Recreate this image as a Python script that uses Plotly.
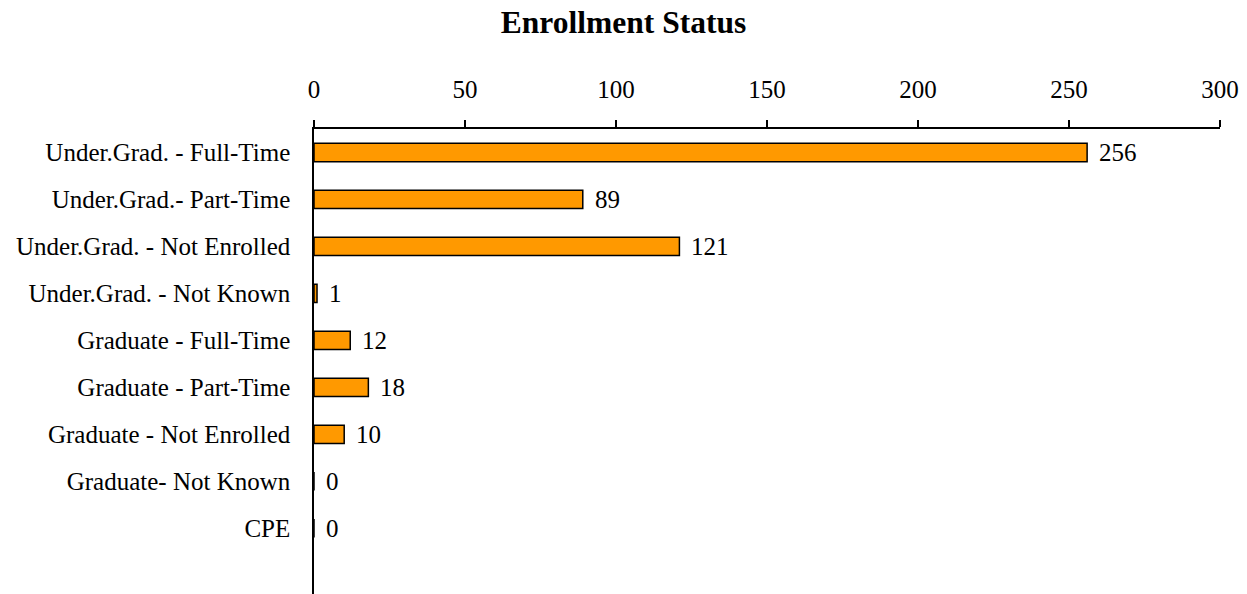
import plotly.graph_objects as go

categories = [
    "Under.Grad. - Full-Time",
    "Under.Grad.- Part-Time",
    "Under.Grad. - Not Enrolled",
    "Under.Grad. - Not Known",
    "Graduate - Full-Time",
    "Graduate - Part-Time",
    "Graduate - Not Enrolled",
    "Graduate- Not Known",
    "CPE",
]
values = [256, 89, 121, 1, 12, 18, 10, 0, 0]
x_ticks = [0, 50, 100, 150, 200, 250, 300]

FONT = "Liberation Serif, Times New Roman, serif"
FS = 25

fig = go.Figure()
fig.add_trace(go.Bar(
    x=values,
    y=categories,
    orientation="h",
    marker=dict(color="#FF9900", line=dict(color="black", width=1.5)),
    hoverinfo="x+y",
))

for c, v in zip(categories, values):
    fig.add_annotation(
        x=v, y=c, text=str(v), showarrow=False,
        xanchor="left", yanchor="middle", xshift=10,
        font=dict(family=FONT, size=FS, color="black"),
    )

fig.update_layout(
    width=1247, height=594,
    margin=dict(l=314, r=27, t=129, b=0),
    paper_bgcolor="white", plot_bgcolor="white",
    showlegend=False,
    bargap=0.61,
    font=dict(family=FONT, size=FS, color="black"),
    title=dict(
        text="<b>Enrollment Status</b>",
        x=0.5, xanchor="center", y=0.963, yanchor="middle",
        font=dict(family=FONT, size=31.5, color="black"),
    ),
    xaxis=dict(
        side="top", range=[0, 300], tickvals=x_ticks,
        ticks="outside", ticklen=7, tickwidth=1.5, tickcolor="black",
        showline=True, linecolor="black", linewidth=1.5,
        showgrid=False, zeroline=False,
        tickfont=dict(family=FONT, size=FS, color="black"),
        ticklabelstandoff=12,
    ),
    yaxis=dict(
        type="category", categoryorder="array", categoryarray=categories,
        range=[9.4, -0.5],
        showline=True, linecolor="black", linewidth=1.5,
        ticks="", showgrid=False, zeroline=False,
        tickfont=dict(family=FONT, size=FS, color="black"),
        ticklabelstandoff=17,
    ),
)

fig.write_html(
    "out.html",
    config={"displayModeBar": False},
    post_script="document.body.style.margin='0px';document.body.style.overflow='hidden';",
)
